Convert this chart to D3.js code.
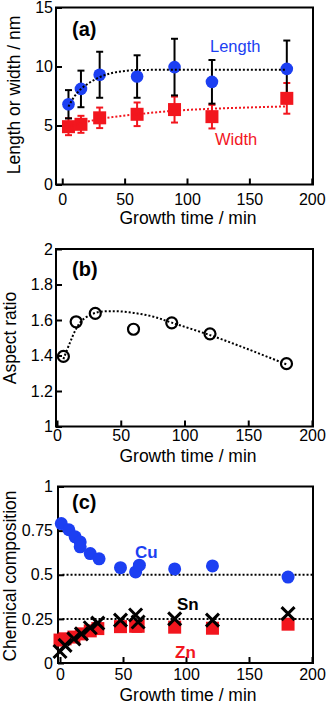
<!DOCTYPE html>
<html>
<head>
<meta charset="utf-8">
<script src="https://cdn.jsdelivr.net/npm/d3@7"></script>
<style>
  body { margin: 0; background: #fff; }
  text { font-family: "Liberation Sans", Arial, Helvetica, sans-serif; }
</style>
</head>
<body>
<script>
// (a) length and width vs growth time
const sizeTime = [5, 15, 30, 60, 90, 120, 180];
const lengthNm = [6.8, 8.1, 9.3, 9.15, 9.95, 8.7, 9.8];
const lengthErr = [1.2, 1.55, 1.95, 1.8, 2.4, 1.85, 2.4];
const widthNm = [4.9, 5.1, 5.65, 5.95, 6.35, 5.75, 7.3];
const widthErr = [0.72, 0.72, 0.87, 1.0, 1.1, 1.0, 1.3];
// fitted guide curves
const lengthFitTime = [5, 10, 15, 20, 30, 40, 50, 60, 80, 180];
const lengthFit = [6.6, 7.5, 8.1, 8.5, 9.1, 9.45, 9.62, 9.7, 9.72, 9.72];
const widthFitTime = [5, 15, 30, 60, 90, 120, 150, 180];
const widthFit = [4.9, 5.2, 5.55, 5.95, 6.25, 6.42, 6.53, 6.62];

// (b) aspect ratio
const aspect = [1.395, 1.59, 1.637, 1.548, 1.584, 1.522, 1.354];
const aspectFitTime = [5, 10, 15, 20, 30, 45, 60, 75, 90, 120, 150, 180];
const aspectFit = [1.38, 1.47, 1.55, 1.6, 1.64, 1.65, 1.64, 1.62, 1.585, 1.515, 1.435, 1.35];

// (c) chemical composition
const cuTime = [1, 7, 12, 16, 16, 24, 31, 48, 60, 63, 91, 121, 181];
const cu = [0.79, 0.755, 0.715, 0.686, 0.658, 0.62, 0.59, 0.54, 0.516, 0.554, 0.533, 0.55, 0.487];
const snZnTime = [0, 4, 11, 17, 24, 30, 48, 60, 62, 91, 121, 181];
const sn = [0.065, 0.1, 0.137, 0.165, 0.2, 0.226, 0.243, 0.272, 0.232, 0.25, 0.243, 0.28];
const zn = [0.13, 0.137, 0.147, 0.165, 0.182, 0.195, 0.206, 0.208, 0.208, 0.203, 0.197, 0.22];
const refLevels = [0.5, 0.25];

const xTicks = [0, 50, 100, 150, 200];
const blue = "#1c3ff2", red = "#f2161e";

const svg = d3.select("body").append("svg")
  .attr("width", 326)
  .attr("height", 704);

const fmt = d => String(+d.toFixed(2));

function makePanel(p) {
  const x = d3.scaleLinear().domain(p.xDomain).range([p.left, p.right]);
  const y = d3.scaleLinear().domain(p.yDomain).range([p.bottom, p.top]);
  const g = svg.append("g");

  const xa = g.append("g")
    .attr("transform", `translate(0,${p.bottom})`)
    .call(d3.axisBottom(x).tickValues(xTicks).tickSize(-6).tickSizeOuter(0).tickPadding(p.xPad));
  const ya = g.append("g")
    .attr("transform", `translate(${p.left},0)`)
    .call(d3.axisLeft(y).tickValues(p.yTicks).tickFormat(fmt).tickSize(-6).tickSizeOuter(0).tickPadding(p.yPad));
  [xa, ya].forEach(a => {
    a.select(".domain").remove();
    a.selectAll("line").attr("stroke", "#000").attr("stroke-width", 2);
    a.selectAll("text").attr("font-size", 16).attr("fill", "#000");
  });

  g.append("rect")
    .attr("x", p.left).attr("y", p.top)
    .attr("width", p.right - p.left).attr("height", p.bottom - p.top)
    .attr("fill", "none").attr("stroke", "#000").attr("stroke-width", 2);

  g.append("text")
    .attr("x", 188).attr("y", p.xTitleY)
    .attr("text-anchor", "middle").attr("font-size", 17.5)
    .text("Growth time / min");
  g.append("text")
    .attr("transform", `translate(${p.yTitleX},${p.yTitleY}) rotate(-90)`)
    .attr("text-anchor", "middle").attr("font-size", 17.5)
    .text(p.yTitle);
  g.append("text")
    .attr("x", 72).attr("y", p.tagY)
    .attr("font-size", 20).attr("font-weight", "bold")
    .text(p.tag);
  return { g, x, y };
}

const dotted = (g, xs, ys, x, y, color, curve) => {
  const line = d3.line().x(d => x(d[0])).y(d => y(d[1])).curve(curve);
  g.append("path")
    .attr("d", line(d3.zip(xs, ys)))
    .attr("fill", "none").attr("stroke", color)
    .attr("stroke-width", 2).attr("stroke-dasharray", "2,2");
};

// ---------- (a)
{
  const { g, x, y } = makePanel({
    left: 56, right: 313, top: 7.5, bottom: 184.5,
    xDomain: [-5, 201], yDomain: [0, 15], yTicks: [0, 5, 10, 15],
    xPad: 9.5, yPad: 3, xTitleY: 224, yTitleX: 20, yTitleY: 95,
    yTitle: "Length or width / nm", tag: "(a)", tagY: 36
  });

  const errBars = (vals, errs, color) => {
    const eg = g.append("g").attr("stroke", color).attr("stroke-width", 2);
    sizeTime.forEach((t, i) => {
      const cx = x(t), y1 = y(vals[i] + errs[i]), y2 = y(vals[i] - errs[i]);
      eg.append("line").attr("x1", cx).attr("x2", cx).attr("y1", y1).attr("y2", y2);
      eg.append("line").attr("x1", cx - 3.5).attr("x2", cx + 3.5).attr("y1", y1).attr("y2", y1);
      eg.append("line").attr("x1", cx - 3.5).attr("x2", cx + 3.5).attr("y1", y2).attr("y2", y2);
    });
  };
  errBars(widthNm, widthErr, red);
  errBars(lengthNm, lengthErr, "#000");

  g.append("g").selectAll("rect").data(widthNm).join("rect")
    .attr("x", (d, i) => x(sizeTime[i]) - 6.5).attr("y", d => y(d) - 6.5)
    .attr("width", 13).attr("height", 13).attr("fill", red);
  g.append("g").selectAll("circle").data(lengthNm).join("circle")
    .attr("cx", (d, i) => x(sizeTime[i])).attr("cy", d => y(d))
    .attr("r", 6.3).attr("fill", blue);

  dotted(g, lengthFitTime, lengthFit, x, y, "#000", d3.curveMonotoneX);
  dotted(g, widthFitTime, widthFit, x, y, red, d3.curveMonotoneX);

  g.append("text").attr("x", 210).attr("y", 52).attr("font-size", 16.5)
    .attr("fill", blue).text("Length");
  g.append("text").attr("x", 215).attr("y", 145).attr("font-size", 16.5)
    .attr("fill", red).text("Width");
}

// ---------- (b)
{
  const { g, x, y } = makePanel({
    left: 56, right: 313, top: 249, bottom: 426.5,
    xDomain: [-0.8, 200.8], yDomain: [1, 2], yTicks: [1, 1.2, 1.4, 1.6, 1.8, 2],
    xPad: 3.5, yPad: 3, xTitleY: 461.5, yTitleX: 16, yTitleY: 338,
    yTitle: "Aspect ratio", tag: "(b)", tagY: 276
  });
  dotted(g, aspectFitTime, aspectFit, x, y, "#000", d3.curveCatmullRom);
  g.append("g").selectAll("circle").data(aspect).join("circle")
    .attr("cx", (d, i) => x(sizeTime[i])).attr("cy", d => y(d))
    .attr("r", 5.5).attr("fill", "none")
    .attr("stroke", "#000").attr("stroke-width", 2.2);
}

// ---------- (c)
{
  const { g, x, y } = makePanel({
    left: 58, right: 313, top: 486.5, bottom: 663,
    xDomain: [-1.6, 200.8], yDomain: [0, 1], yTicks: [0, 0.25, 0.5, 0.75, 1],
    xPad: 5.5, yPad: 5, xTitleY: 701, yTitleX: 16, yTitleY: 576,
    yTitle: "Chemical composition", tag: "(c)", tagY: 509
  });

  g.append("g").selectAll("line").data(refLevels).join("line")
    .attr("x1", x(2)).attr("x2", x(200.8))
    .attr("y1", d => y(d)).attr("y2", d => y(d))
    .attr("stroke", "#000").attr("stroke-width", 2).attr("stroke-dasharray", "2,2");

  g.append("g").selectAll("rect").data(zn).join("rect")
    .attr("x", (d, i) => x(snZnTime[i]) - 6.5).attr("y", d => y(d) - 6.5)
    .attr("width", 13).attr("height", 13).attr("fill", red);
  g.append("g").selectAll("path").data(sn).join("path")
    .attr("d", (d, i) => {
      const cx = x(snZnTime[i]), cy = y(d), s = 6.5;
      return `M${cx - s},${cy - s}L${cx + s},${cy + s}M${cx - s},${cy + s}L${cx + s},${cy - s}`;
    })
    .attr("stroke", "#000").attr("stroke-width", 3).attr("fill", "none");
  g.append("g").selectAll("circle").data(cu).join("circle")
    .attr("cx", (d, i) => x(cuTime[i])).attr("cy", d => y(d))
    .attr("r", 6.5).attr("fill", blue);

  g.append("text").attr("x", 135).attr("y", 558).attr("font-size", 17)
    .attr("font-weight", "bold").attr("fill", blue).text("Cu");
  g.append("text").attr("x", 177).attr("y", 610).attr("font-size", 17)
    .attr("font-weight", "bold").attr("fill", "#000").text("Sn");
  g.append("text").attr("x", 175).attr("y", 658).attr("font-size", 17)
    .attr("font-weight", "bold").attr("fill", red).text("Zn");
}
</script>
</body>
</html>
